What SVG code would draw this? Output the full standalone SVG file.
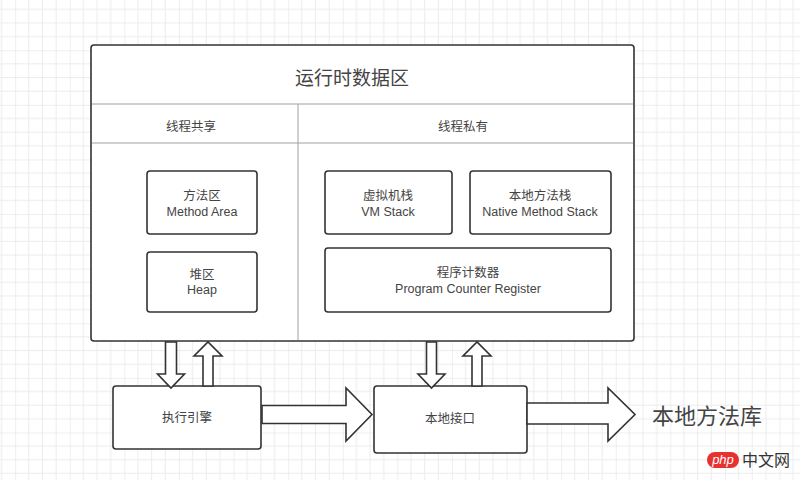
<svg xmlns="http://www.w3.org/2000/svg" width="800" height="480" viewBox="0 0 800 480">
  <defs>
    <pattern id="grid" patternUnits="userSpaceOnUse" x="15.15" y="50.25" width="54.6" height="54.6">
      <path d="M13.65 0V54.6M27.3 0V54.6M40.95 0V54.6M0 13.65H54.6M0 27.3H54.6M0 40.95H54.6" stroke="#ececec" stroke-width="1" fill="none"/>
      <path d="M0 0V54.6M0 0H54.6" stroke="#e0e0e0" stroke-width="1" fill="none"/>
    </pattern>
    <style>
      .box { fill: #ffffff; stroke: #333333; stroke-width: 1.6; }
      .div { stroke: #a0a0a0; stroke-width: 1; fill: none; }
      .arr { fill: #ffffff; stroke: #333333; stroke-width: 1.6; stroke-linejoin: miter; }
      text { font-family: "Liberation Sans", "Noto Sans CJK SC", sans-serif; fill: #444444; text-anchor: middle; dominant-baseline: central; }
      .s { font-size: 12.5px; }
      .t { font-size: 19px; }
      .lib { font-size: 22px; text-anchor: start; }
    </style>
  </defs>
  <rect width="800" height="480" fill="#ffffff"/>
  <rect width="800" height="480" fill="url(#grid)"/>

  <g id="runtime-data-area">
    <rect class="box" x="91" y="45" width="543" height="296" rx="3"/>
    <path class="div" d="M92 104H633M92 143H633M298 104V340"/>
    <text class="t" x="352" y="78">运行时数据区</text>
    <text class="s" x="191" y="127">线程共享</text>
    <text class="s" x="463" y="127">线程私有</text>
  </g>

  <g id="method-area">
    <rect class="box" x="147" y="171" width="110" height="63" rx="3"/>
    <text class="s" x="202" y="196">方法区</text>
    <text class="s" x="202" y="212">Method Area</text>
  </g>

  <g id="heap">
    <rect class="box" x="147" y="252" width="110" height="60" rx="3"/>
    <text class="s" x="202" y="275">堆区</text>
    <text class="s" x="202" y="290">Heap</text>
  </g>

  <g id="vm-stack">
    <rect class="box" x="325" y="171" width="127" height="63" rx="3"/>
    <text class="s" x="388" y="196">虚拟机栈</text>
    <text class="s" x="388" y="212">VM Stack</text>
  </g>

  <g id="native-method-stack">
    <rect class="box" x="470" y="171" width="141" height="63" rx="3"/>
    <text class="s" x="540" y="196">本地方法栈</text>
    <text class="s" x="540" y="212">Native Method Stack</text>
  </g>

  <g id="program-counter">
    <rect class="box" x="325" y="248" width="286" height="64" rx="3"/>
    <text class="s" x="468" y="273">程序计数器</text>
    <text class="s" x="468" y="289">Program Counter Register</text>
  </g>

  <g id="execution-engine">
    <rect class="box" x="113" y="386" width="148" height="63" rx="3"/>
    <text class="s" x="187" y="418">执行引擎</text>
  </g>

  <g id="native-interface">
    <rect class="box" x="374" y="386" width="153" height="67" rx="3"/>
    <text class="s" x="450" y="419">本地接口</text>
  </g>

  <g id="native-library">
    <text class="lib" x="652" y="416">本地方法库</text>
  </g>

  <g id="connectors">
    <path class="arr" d="M165.5 342V374H157.5L171 388L184.5 374H176.5V342Z"/>
    <path class="arr" d="M203 386V356H194L208 342L222 356H213V386Z"/>
    <path class="arr" d="M426.5 342V374H418L431.5 388L445 374H436.5V342Z"/>
    <path class="arr" d="M472 386V356H463L477 342L491 356H482V386Z"/>
    <path class="arr" d="M262 405.5H346V388L372 414.5L346 441V423.5H262Z"/>
    <path class="arr" d="M527 403H608V388L635 414.5L608 441V424H527Z"/>
  </g>

  <g id="watermark">
    <rect x="707" y="452" width="32" height="16" rx="8" fill="#e8312f"/>
    <text x="723" y="459.5" style="font-size:13px;fill:#ffffff;font-style:italic;font-family:'Liberation Sans',sans-serif;">php</text>
    <text x="766" y="460" style="font-size:16px;fill:#333333;">中文网</text>
  </g>
</svg>
